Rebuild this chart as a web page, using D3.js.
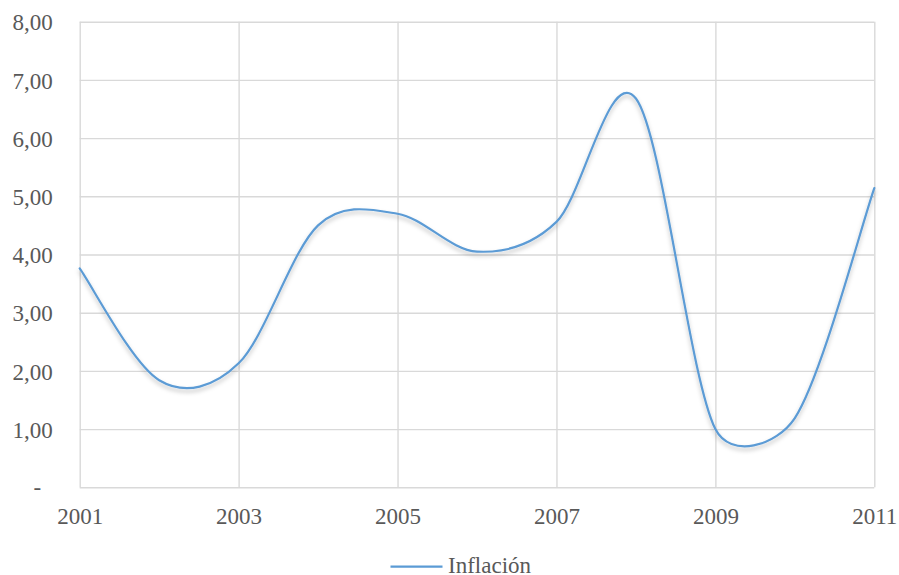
<!DOCTYPE html>
<html>
<head>
<meta charset="utf-8">
<script src="https://cdn.jsdelivr.net/npm/d3@7"></script>
<style>
  html, body { margin: 0; padding: 0; background: #fff; }
  svg { display: block; }
</style>
</head>
<body>
<svg id="chart" width="899" height="575"></svg>
<script>
// Annual inflation (%)
const years = [2001, 2002, 2003, 2004, 2005, 2006, 2007, 2008, 2009, 2010, 2011];
const inflacion = [3.76, 1.84, 2.13, 4.50, 4.70, 4.05, 4.56, 6.68, 1.00, 1.19, 5.14];
const yTicks = [0, 1, 2, 3, 4, 5, 6, 7, 8];
const yTickLabels = ["-", "1,00", "2,00", "3,00", "4,00", "5,00", "6,00", "7,00", "8,00"];
const xTicks = [2001, 2003, 2005, 2007, 2009, 2011];
const seriesName = "Inflación";

const FONT = '"Liberation Serif", "Times New Roman", "DejaVu Serif", serif';
const TEXT_COLOR = "#595959";
const LINE_COLOR = "#5B9BD5";
const GRID_COLOR = "#D9D9D9";

// Spreadsheet-style smoothed line: cubic Bézier segments whose handles follow
// the neighbouring points (1/6 of the chord p[i-1]→p[i+1]), with each handle
// capped relative to the segment length so short segments do not overshoot.
const HANDLE_CAP = 0.42;
function SpreadsheetSmooth(context) { this._context = context; }
SpreadsheetSmooth.prototype = {
  areaStart() { this._line = 0; },
  areaEnd() { this._line = NaN; },
  lineStart() { this._pts = []; },
  point(x, y) { this._pts.push([+x, +y]); },
  lineEnd() {
    const p = this._pts, n = p.length, c = this._context;
    if (!n) return;
    const dist = (a, b) => Math.hypot(b[0] - a[0], b[1] - a[1]);
    const factor = (chord, seg) =>
      chord === 0 ? 0 : Math.min(1 / 6, HANDLE_CAP * seg / chord);
    c.moveTo(p[0][0], p[0][1]);
    for (let i = 0; i < n - 1; i++) {
      const p0 = p[i - 1] || p[i], p1 = p[i], p2 = p[i + 1], p3 = p[i + 2] || p[i + 1];
      const d12 = dist(p1, p2);
      const f1 = factor(dist(p0, p2), d12);
      const f2 = factor(dist(p1, p3), d12);
      c.bezierCurveTo(
        p1[0] + f1 * (p2[0] - p0[0]), p1[1] + f1 * (p2[1] - p0[1]),
        p2[0] - f2 * (p3[0] - p1[0]), p2[1] - f2 * (p3[1] - p1[1]),
        p2[0], p2[1]);
    }
  }
};
const curveSpreadsheetSmooth = context => new SpreadsheetSmooth(context);

const svg = d3.select("#chart");
const W = 899, H = 575;
const margin = { left: 79.7, right: 24.7, top: 21.7, bottom: 87.7 };
const x = d3.scaleLinear().domain([2001, 2011]).range([margin.left, W - margin.right]);
const y = d3.scaleLinear().domain([0, 8]).range([H - margin.bottom, margin.top]);

// soft shadow beneath the series line
const defs = svg.append("defs");
const f = defs.append("filter").attr("id", "shadow")
  .attr("x", "-10%").attr("y", "-10%").attr("width", "120%").attr("height", "130%");
f.append("feDropShadow").attr("dx", 0).attr("dy", 3).attr("stdDeviation", 2.2)
  .attr("flood-color", "#000").attr("flood-opacity", 0.25);

// horizontal gridlines + y labels
const yAxis = d3.axisLeft(y).tickValues(yTicks)
  .tickSize(-(W - margin.left - margin.right))
  .tickFormat((d, i) => yTickLabels[i]);
const gy = svg.append("g").attr("transform", `translate(${margin.left},0)`).call(yAxis);
gy.attr("font-family", null).attr("font-size", null);
gy.select(".domain").remove();
gy.selectAll(".tick line").attr("stroke", GRID_COLOR).attr("stroke-width", 1.4);
gy.selectAll(".tick text")
  .attr("x", -27).attr("dy", "0.36em")
  .attr("text-anchor", "end")
  .style("font-family", FONT).style("font-size", "23px").style("fill", TEXT_COLOR)
  .each(function (d) { if (d === 0) d3.select(this).attr("x", -38.5).attr("dy", "0.3em"); });

// vertical gridlines + x labels
const xAxis = d3.axisBottom(x).tickValues(xTicks)
  .tickSize(-(H - margin.top - margin.bottom))
  .tickFormat(d3.format("d"));
const gx = svg.append("g").attr("transform", `translate(0,${H - margin.bottom})`).call(xAxis);
gx.attr("font-family", null).attr("font-size", null);
gx.select(".domain").remove();
gx.selectAll(".tick line").attr("stroke", GRID_COLOR).attr("stroke-width", 1.4);
gx.selectAll(".tick text")
  .attr("y", 36.5).attr("dy", 0)
  .style("font-family", FONT).style("font-size", "23px").style("fill", TEXT_COLOR);

// smoothed series line
const line = d3.line()
  .x((d, i) => x(years[i]))
  .y(d => y(d))
  .curve(curveSpreadsheetSmooth);
svg.append("path")
  .datum(inflacion)
  .attr("d", line)
  .attr("fill", "none")
  .attr("stroke", LINE_COLOR)
  .attr("stroke-width", 2.2)
  .attr("stroke-linecap", "round")
  .attr("filter", "url(#shadow)");

// legend
const lg = svg.append("g").attr("transform", "translate(390.5,566.7)");
lg.append("line").attr("x1", 0).attr("x2", 52).attr("y1", 0).attr("y2", 0)
  .attr("stroke", LINE_COLOR).attr("stroke-width", 2.2);
lg.append("text").attr("x", 57.5).attr("y", 6)
  .style("font-family", FONT).style("font-size", "23px").style("fill", TEXT_COLOR)
  .text(seriesName);
</script>
</body>
</html>
